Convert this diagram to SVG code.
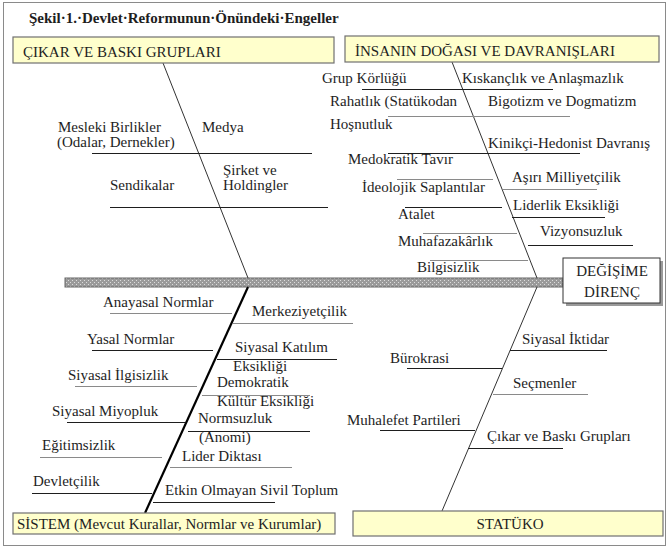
<svg xmlns="http://www.w3.org/2000/svg" width="669" height="549" viewBox="0 0 669 549" font-family="'Liberation Serif', 'Times New Roman', 'DejaVu Serif', serif">
<style>
text{font-family:'Liberation Serif','Times New Roman','DejaVu Serif',serif;font-size:15px;fill:#1e1e1e}
.t{font-weight:bold;font-size:15px}
.box{fill:#ffffcc;stroke:#707070;stroke-width:1.2}
.k{stroke:#1e1e1e;stroke-width:1;fill:none}
.g{stroke:#8a8a8a;stroke-width:1;fill:none}
.bone{stroke:#333;stroke-width:1;fill:none}
.thick{stroke:#000;stroke-width:2.2;fill:none}
.c{text-anchor:middle}
</style>
<defs>
<pattern id="hatch" width="4" height="4" patternUnits="userSpaceOnUse">
<rect width="4" height="4" fill="#9a9a9a"/>
<rect x="0" y="0" width="1" height="1" fill="#dcdcdc"/>
<rect x="2" y="2" width="1" height="1" fill="#dcdcdc"/>
</pattern>
</defs>
<rect x="3.5" y="2.5" width="662" height="543" fill="#fff" stroke="#8a8a8a"/>
<text class="t" x="29" y="23">Şekil·1.·Devlet·Reformunun·Önündeki·Engeller</text>

<g id="connectors">
<rect x="65" y="278" width="498" height="9" fill="url(#hatch)" stroke="#666" stroke-width="1"/>
<line class="bone" x1="163" y1="63" x2="248" y2="278"/>
<line class="bone" x1="452" y1="62" x2="537" y2="278"/>
<line class="thick" x1="248" y1="287" x2="145" y2="513"/>
<line class="bone" x1="537" y1="287" x2="442" y2="511"/>
</g>

<g id="cikar-box"><rect class="box" x="13" y="37" width="321" height="26"/><text x="23" y="57">ÇIKAR VE BASKI GRUPLARI</text></g>
<g id="insan-box"><rect class="box" x="345" y="36" width="314" height="26"/><text x="355" y="56">İNSANIN DOĞASI VE DAVRANIŞLARI</text></g>
<g id="sistem-box"><rect class="box" x="13" y="513" width="322" height="21"/><text x="17" y="529">SİSTEM (Mevcut Kurallar, Normlar ve Kurumlar)</text></g>
<g id="statuko-box"><rect class="box" x="353" y="511" width="310" height="25"/><text class="c" x="510" y="529">STATÜKO</text></g>
<g id="direnc-box"><rect x="566" y="261" width="97" height="45" fill="#9a9a9a"/><rect x="563" y="258" width="97" height="45" fill="#fff" stroke="#333"/><text class="c" x="612" y="276">DEĞİŞİME</text><text class="c" x="612" y="297">DİRENÇ</text></g>

<g id="mesleki"><text x="58" y="132">Mesleki Birlikler</text><text x="57" y="147">(Odalar, Dernekler)</text><line class="k" x1="92" y1="153.5" x2="312" y2="153.5"/></g>
<g id="medya"><text x="202" y="132">Medya</text></g>
<g id="sendikalar"><text x="110" y="190">Sendikalar</text><line class="k" x1="110" y1="207.5" x2="328" y2="207.5"/></g>
<g id="sirket"><text x="223" y="175">Şirket ve</text><text x="223" y="190">Holdingler</text></g>

<g id="grup"><text x="322" y="83">Grup Körlüğü</text><line class="k" x1="362" y1="89.5" x2="553" y2="89.5"/></g>
<g id="kiskanclik"><text x="462" y="83">Kıskançlık ve Anlaşmazlık</text></g>
<g id="rahatlik"><text x="330" y="106">Rahatlık (Statükodan</text><text x="330" y="129">Hoşnutluk</text><line class="g" x1="388" y1="116.5" x2="570" y2="116.5"/></g>
<g id="bigotizm"><text x="488" y="106">Bigotizm ve Dogmatizm</text></g>
<g id="kinikci"><text x="488" y="148">Kinikçi-Hedonist Davranış</text><line class="k" x1="388" y1="153.5" x2="580" y2="153.5"/></g>
<g id="medokratik"><text x="348" y="164">Medokratik Tavır</text><line class="g" x1="397" y1="179.5" x2="493" y2="179.5"/></g>
<g id="asiri"><text x="512" y="182">Aşırı Milliyetçilik</text><line class="g" x1="503" y1="189.5" x2="597" y2="189.5"/></g>
<g id="ideolojik"><text x="362" y="192">İdeolojik Saplantılar</text><line class="k" x1="405" y1="207.5" x2="502" y2="207.5"/></g>
<g id="liderlik"><text x="513" y="210">Liderlik Eksikliği</text><line class="k" x1="512" y1="217.5" x2="605" y2="217.5"/></g>
<g id="atalet"><text x="398" y="219">Atalet</text></g>
<g id="muhafazakarlik"><text x="398" y="246">Muhafazakârlık</text><line class="g" x1="423" y1="233.5" x2="517" y2="233.5"/></g>
<g id="vizyonsuzluk"><text x="540" y="236">Vizyonsuzluk</text><line class="k" x1="528" y1="245.5" x2="633" y2="245.5"/></g>
<g id="bilgisizlik"><text x="417" y="272">Bilgisizlik</text><line class="g" x1="430" y1="260.5" x2="528" y2="260.5"/></g>

<g id="anayasal"><text x="103" y="307">Anayasal Normlar</text><line class="g" x1="110" y1="313.5" x2="232" y2="313.5"/></g>
<g id="merkeziyetcilik"><text x="252" y="316">Merkeziyetçilik</text><line class="g" x1="233" y1="323.5" x2="353" y2="323.5"/></g>
<g id="yasal"><text x="87" y="344">Yasal Normlar</text><line class="k" x1="92" y1="350.5" x2="213" y2="350.5"/></g>
<g id="katilim"><text x="235" y="352">Siyasal Katılım</text><text x="233" y="371">Eksikliği</text><line class="k" x1="217" y1="359.5" x2="337" y2="359.5"/></g>
<g id="ilgisizlik"><text x="68" y="380">Siyasal İlgisizlik</text><line class="g" x1="75" y1="386.5" x2="197" y2="386.5"/></g>
<g id="demokratik"><text x="217" y="387">Demokratik</text><text x="217" y="406">Kültür Eksikliği</text><line class="g" x1="202" y1="395.5" x2="310" y2="395.5"/></g>
<g id="miyopluk"><text x="52" y="416">Siyasal Miyopluk</text><line class="k" x1="67" y1="422.5" x2="185" y2="422.5"/></g>
<g id="normsuzluk"><text x="198" y="423">Normsuzluk</text><text x="199" y="442">(Anomi)</text><line class="k" x1="188" y1="431.5" x2="310" y2="431.5"/></g>
<g id="egitimsizlik"><text x="42" y="450">Eğitimsizlik</text><line class="g" x1="40" y1="457.5" x2="162" y2="457.5"/></g>
<g id="lider"><text x="182" y="461">Lider Diktası</text><line class="g" x1="170" y1="467.5" x2="292" y2="467.5"/></g>
<g id="devletcilik"><text x="33" y="486">Devletçilik</text><line class="k" x1="32" y1="493.5" x2="152" y2="493.5"/></g>
<g id="etkin"><text x="165" y="495">Etkin Olmayan Sivil Toplum</text><line class="k" x1="153" y1="502.5" x2="275" y2="502.5"/></g>

<g id="iktidar"><text x="522" y="344">Siyasal İktidar</text><line class="k" x1="510" y1="350.5" x2="607" y2="350.5"/></g>
<g id="burokrasi"><text x="390" y="363">Bürokrasi</text><line class="k" x1="407" y1="368.5" x2="502" y2="368.5"/></g>
<g id="secmenler"><text x="513" y="388">Seçmenler</text><line class="g" x1="493" y1="394.5" x2="588" y2="394.5"/></g>
<g id="muhalefet"><text x="347" y="425">Muhalefet Partileri</text><line class="k" x1="380" y1="430.5" x2="475" y2="430.5"/></g>
<g id="cikar-grup"><text x="487" y="441">Çıkar ve Baskı Grupları</text><line class="k" x1="468" y1="448.5" x2="563" y2="448.5"/></g>
</svg>
